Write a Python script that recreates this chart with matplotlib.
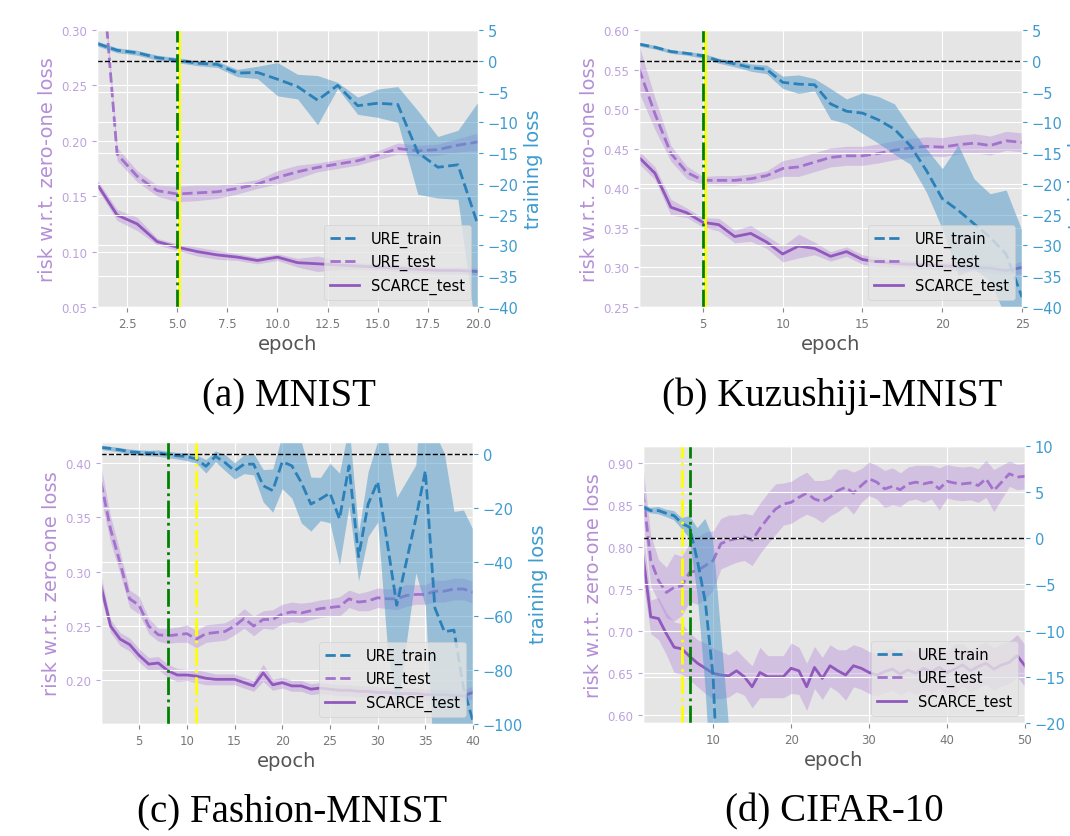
import matplotlib
matplotlib.use("Agg")
import matplotlib.pyplot as plt
import matplotlib.transforms as mtransforms
import numpy as np

plt.style.use("ggplot")

# ---- (a) MNIST ----
a_epoch = list(range(1, 21))
a_train = [2.8, 1.7, 1.3, 0.5, 0.1, -0.4, -0.6, -2.0, -1.9, -3.0, -4.2, -6.4, -4.0, -7.3, -6.9, -7.1, -14.9, -17.3, -16.9, -26.7]
a_train_sd = [0.4, 0.4, 0.4, 0.4, 0.4, 0.4, 0.5, 0.6, 1.0, 2.7, 2.0, 4.0, 0.5, 1.4, 2.3, 2.9, 6.8, 5.0, 5.6, 20.0]
a_test = [0.41, 0.188, 0.168, 0.155, 0.152, 0.153, 0.154, 0.157, 0.161, 0.167, 0.172, 0.176, 0.179, 0.182, 0.187, 0.193, 0.191, 0.192, 0.196, 0.199]
a_test_sd = [0.01, 0.006, 0.005, 0.005, 0.007, 0.007, 0.006, 0.005, 0.004, 0.006, 0.006, 0.004, 0.004, 0.004, 0.004, 0.005, 0.005, 0.005, 0.006, 0.008]
a_scarce = [0.161, 0.133, 0.125, 0.109, 0.104, 0.100, 0.097, 0.095, 0.092, 0.095, 0.090, 0.089, 0.088, 0.087, 0.086, 0.085, 0.084, 0.083, 0.083, 0.082]
a_scarce_sd = [0.004, 0.005, 0.006, 0.003, 0.003, 0.004, 0.004, 0.003, 0.003, 0.003, 0.004, 0.007, 0.004, 0.003, 0.003, 0.003, 0.003, 0.003, 0.003, 0.003]

# ---- (b) Kuzushiji-MNIST ----
b_epoch = list(range(1, 26))
b_train = [2.7, 2.2, 1.5, 1.2, 0.8, 0.0, -0.5, -1.1, -1.4, -3.5, -3.8, -3.9, -7.0, -8.2, -8.5, -9.6, -11.1, -13.8, -17.8, -22.4, -24.3, -26.5, -28.7, -31.4, -38.4]
b_train_sd = [0.3, 0.3, 0.3, 0.3, 0.4, 0.4, 0.5, 0.6, 0.7, 1.0, 1.5, 1.0, 2.5, 2.0, 3.3, 3.8, 4.1, 3.0, 3.5, 4.9, 10.6, 7.3, 7.1, 10.4, 10.8]
b_test = [0.551, 0.494, 0.444, 0.420, 0.410, 0.410, 0.410, 0.412, 0.416, 0.425, 0.427, 0.433, 0.439, 0.441, 0.441, 0.444, 0.448, 0.451, 0.453, 0.452, 0.455, 0.457, 0.454, 0.460, 0.458]
b_test_sd = [0.03, 0.02, 0.01, 0.008, 0.005, 0.006, 0.006, 0.006, 0.006, 0.01, 0.012, 0.012, 0.012, 0.012, 0.012, 0.012, 0.012, 0.012, 0.012, 0.012, 0.012, 0.012, 0.012, 0.012, 0.012]
b_scarce = [0.439, 0.419, 0.376, 0.369, 0.357, 0.354, 0.339, 0.343, 0.332, 0.317, 0.327, 0.324, 0.314, 0.320, 0.310, 0.307, 0.305, 0.304, 0.303, 0.302, 0.301, 0.300, 0.299, 0.296, 0.300]
b_scarce_sd = [0.008, 0.008, 0.01, 0.006, 0.006, 0.008, 0.008, 0.01, 0.008, 0.01, 0.015, 0.008, 0.006, 0.006, 0.006, 0.006, 0.005, 0.005, 0.005, 0.005, 0.005, 0.005, 0.005, 0.005, 0.008]

# ---- (c) Fashion-MNIST ----
c_epoch = list(range(1, 41))
c_train = [2.5, 2.1, 1.6, 0.9, 0.6, 0.4, 0.4, -0.1, -0.6, -0.9, -1.8, -4.5, -0.8, -3.1, -6.2, -3.7, -3.7, -11.7, -13.5, -2.8,
           -4.3, -10.5, -18.5, -16.6, -14.4, -24.0, -4.3, -38.0, -18.5, -10.2, -32.6, -56.0, -40.0, -24.0, -6.2, -57.0, -65.8, -65.2, -86.7, -99.0]
c_train_sd = [0.8, 0.8, 0.8, 1.0, 1.0, 1.0, 1.2, 1.2, 1.2, 1.5, 1.5, 2.5, 2.0, 3.0, 3.0, 3.5, 4.0, 6.0, 8.0, 10.0,
              12.0, 15.0, 10.0, 8.0, 11.0, 17.0, 15.0, 9.0, 12.0, 15.0, 38.0, 40.0, 30.0, 20.0, 50.0, 65.0, 66.0, 44.0, 66.0, 71.0]
c_test = [0.382, 0.339, 0.308, 0.275, 0.269, 0.250, 0.242, 0.241, 0.242, 0.243, 0.238, 0.243, 0.244, 0.245, 0.250, 0.257, 0.250, 0.256, 0.256, 0.261,
          0.263, 0.262, 0.264, 0.266, 0.267, 0.268, 0.275, 0.272, 0.273, 0.276, 0.275, 0.275, 0.278, 0.279, 0.279, 0.282, 0.282, 0.284, 0.284, 0.281]
c_test_sd = [0.015, 0.012, 0.01, 0.008, 0.008, 0.007, 0.006, 0.007, 0.007, 0.008, 0.008, 0.008, 0.008, 0.008, 0.008, 0.009, 0.009, 0.008, 0.009, 0.009,
             0.009, 0.009, 0.008, 0.008, 0.008, 0.009, 0.008, 0.008, 0.009, 0.009, 0.009, 0.01, 0.01, 0.009, 0.009, 0.01, 0.01, 0.01, 0.01, 0.01]
c_scarce = [0.287, 0.250, 0.238, 0.233, 0.223, 0.215, 0.216, 0.209, 0.205, 0.205, 0.204, 0.202, 0.201, 0.201, 0.201, 0.198, 0.195, 0.207, 0.196, 0.198,
            0.195, 0.195, 0.192, 0.193, 0.192, 0.191, 0.191, 0.190, 0.190, 0.189, 0.189, 0.188, 0.188, 0.188, 0.187, 0.187, 0.187, 0.186, 0.186, 0.189]
c_scarce_sd = [0.01, 0.006, 0.006, 0.006, 0.006, 0.006, 0.006, 0.006, 0.006, 0.005, 0.006, 0.006, 0.005, 0.005, 0.005, 0.005, 0.005, 0.008, 0.005, 0.005,
               0.005, 0.005, 0.005, 0.005, 0.005, 0.005, 0.005, 0.005, 0.005, 0.005, 0.005, 0.005, 0.005, 0.005, 0.005, 0.005, 0.005, 0.005, 0.005, 0.006]

# ---- (d) CIFAR-10 ----
d_epoch = list(range(1, 51))
d_train_epoch = list(range(1, 13))
d_train = [3.4, 3.0, 3.0, 2.7, 2.45, 1.6, 1.2, -2.5, -6.9, -15.0, -35.0, -55.0]
d_train_sd = [0.3, 0.3, 0.4, 0.4, 0.5, 0.6, 1.2, 3.6, 9.0, 15.0, 25.0, 35.0]
d_test = [0.865, 0.784, 0.760, 0.746, 0.752, 0.754, 0.770, 0.772, 0.778, 0.784, 0.804, 0.808, 0.810, 0.812, 0.808, 0.822, 0.834, 0.845, 0.851, 0.853,
          0.859, 0.864, 0.857, 0.854, 0.859, 0.867, 0.871, 0.864, 0.873, 0.881, 0.877, 0.869, 0.872, 0.868, 0.875, 0.877, 0.875, 0.877, 0.869, 0.878,
          0.876, 0.875, 0.876, 0.873, 0.881, 0.867, 0.877, 0.887, 0.883, 0.884]
d_test_sd = [0.03, 0.03, 0.025, 0.03, 0.04, 0.035, 0.035, 0.04, 0.04, 0.035, 0.03, 0.03, 0.028, 0.028, 0.03, 0.03, 0.03, 0.03, 0.025, 0.025,
             0.025, 0.025, 0.022, 0.025, 0.022, 0.025, 0.022, 0.025, 0.02, 0.02, 0.02, 0.022, 0.022, 0.02, 0.02, 0.02, 0.022, 0.02, 0.025, 0.02,
             0.02, 0.02, 0.02, 0.02, 0.022, 0.025, 0.02, 0.015, 0.015, 0.015]
d_scarce = [0.790, 0.717, 0.715, 0.697, 0.681, 0.679, 0.670, 0.662, 0.656, 0.650, 0.648, 0.647, 0.653, 0.646, 0.634, 0.651, 0.646, 0.646, 0.646, 0.656,
            0.653, 0.634, 0.657, 0.644, 0.659, 0.653, 0.648, 0.659, 0.656, 0.651, 0.648, 0.652, 0.655, 0.649, 0.654, 0.650, 0.656, 0.652, 0.657, 0.651,
            0.655, 0.660, 0.653, 0.658, 0.662, 0.655, 0.660, 0.663, 0.671, 0.659]
d_scarce_sd = [0.03, 0.02, 0.025, 0.025, 0.03, 0.03, 0.028, 0.028, 0.03, 0.03, 0.028, 0.025, 0.025, 0.022, 0.025, 0.03, 0.025, 0.025, 0.025, 0.03,
               0.028, 0.028, 0.025, 0.025, 0.025, 0.025, 0.03, 0.025, 0.025, 0.025, 0.025, 0.025, 0.025, 0.025, 0.025, 0.025, 0.025, 0.025, 0.025, 0.025,
               0.03, 0.025, 0.025, 0.025, 0.025, 0.025, 0.025, 0.025, 0.025, 0.025]

captions = ["(a) MNIST", "(b) Kuzushiji-MNIST", "(c) Fashion-MNIST", "(d) CIFAR-10"]
green_epoch = [5, 5, 8, 7]
yellow_epoch = [5, 5, 11, 6]

# colours
c_blue = "#2b80b9"
c_blue_fill = "#4a98c9"
c_urt = "#a272cd"
c_sc = "#9158bd"
c_pfill = "#b07cd8"
c_left_lab = "#b48fd6"
c_right_lab = "#3d9bd0"

fig = plt.figure(figsize=(10.7, 8.37), dpi=100)

panels = [
    dict(pos=[0.0907, 0.632, 0.356, 0.331], ep=a_epoch, tr_ep=a_epoch, tr=a_train, tr_sd=a_train_sd,
         te=a_test, te_sd=a_test_sd, sc=a_scarce, sc_sd=a_scarce_sd,
         xlim=(1, 20), ylim=(0.05, 0.30), y2lim=(-40, 5),
         xt=[2.5, 5, 7.5, 10, 12.5, 15, 17.5, 20], xtl=["2.5", "5.0", "7.5", "10.0", "12.5", "15.0", "17.5", "20.0"],
         yt=[0.05, 0.10, 0.15, 0.20, 0.25, 0.30], y2t=[-40, -35, -30, -25, -20, -15, -10, -5, 0, 5]),
    dict(pos=[0.5972, 0.632, 0.358, 0.331], ep=b_epoch, tr_ep=b_epoch, tr=b_train, tr_sd=b_train_sd,
         te=b_test, te_sd=b_test_sd, sc=b_scarce, sc_sd=b_scarce_sd,
         xlim=(1, 25), ylim=(0.25, 0.60), y2lim=(-40, 5),
         xt=[5, 10, 15, 20, 25], xtl=["5", "10", "15", "20", "25"],
         yt=[0.25, 0.30, 0.35, 0.40, 0.45, 0.50, 0.55, 0.60], y2t=[-40, -35, -30, -25, -20, -15, -10, -5, 0, 5]),
    dict(pos=[0.0944, 0.1338, 0.3477, 0.3369], ep=c_epoch, tr_ep=c_epoch, tr=c_train, tr_sd=c_train_sd,
         te=c_test, te_sd=c_test_sd, sc=c_scarce, sc_sd=c_scarce_sd,
         xlim=(1, 40), ylim=(0.160, 0.419), y2lim=(-100, 4.5),
         xt=[5, 10, 15, 20, 25, 30, 35, 40], xtl=["5", "10", "15", "20", "25", "30", "35", "40"],
         yt=[0.20, 0.25, 0.30, 0.35, 0.40], y2t=[-100, -80, -60, -40, -20, 0]),
    dict(pos=[0.6009, 0.135, 0.357, 0.331], ep=d_epoch, tr_ep=d_train_epoch, tr=d_train, tr_sd=d_train_sd,
         te=d_test, te_sd=d_test_sd, sc=d_scarce, sc_sd=d_scarce_sd,
         xlim=(1, 50), ylim=(0.591, 0.920), y2lim=(-20, 10),
         xt=[10, 20, 30, 40, 50], xtl=["10", "20", "30", "40", "50"],
         yt=[0.60, 0.65, 0.70, 0.75, 0.80, 0.85, 0.90], y2t=[-20, -15, -10, -5, 0, 5, 10]),
]

for i, p in enumerate(panels):
    ax = fig.add_axes(p["pos"])
    ep = np.array(p["ep"])
    te = np.array(p["te"]); te_sd = np.array(p["te_sd"])
    sc = np.array(p["sc"]); sc_sd = np.array(p["sc_sd"])

    ax.fill_between(ep, te - te_sd, te + te_sd, color=c_pfill, alpha=0.35, lw=0)
    l_te, = ax.plot(ep, te, ls="--", color=c_urt, lw=2, label="URE_test")
    ax.fill_between(ep, sc - sc_sd, sc + sc_sd, color=c_pfill, alpha=0.35, lw=0)
    l_sc, = ax.plot(ep, sc, ls="-", color=c_sc, lw=2, label="SCARCE_test")

    ax.set_xlim(p["xlim"])
    ax.set_ylim(p["ylim"])
    ax.set_xticks(p["xt"])
    ax.set_xticklabels(p["xtl"])
    ax.set_yticks(p["yt"])
    ax.set_yticklabels(["%.2f" % v for v in p["yt"]])
    ax.tick_params(axis="x", labelsize=8.5, labelcolor="#777777", color="#888888")
    ax.tick_params(axis="y", labelsize=8.5, labelcolor="#bca2dc", color="#bca2dc")
    ax.set_xlabel("epoch", fontsize=14, color="#555555", labelpad=3)
    ax.set_ylabel("risk w.r.t. zero-one loss", fontsize=14, color=c_left_lab, labelpad=3)

    ax2 = ax.twinx()
    tr_ep = np.array(p["tr_ep"])
    tr = np.array(p["tr"]); tr_sd = np.array(p["tr_sd"])
    ax2.fill_between(tr_ep, tr - tr_sd, tr + tr_sd, color=c_blue_fill, alpha=0.5, lw=0)
    l_tr, = ax2.plot(tr_ep, tr, ls="--", color=c_blue, lw=2, label="URE_train")
    ax2.axhline(0, color="black", ls="--", lw=1)

    # yellow marker sits just to the right of the green one when they coincide
    if yellow_epoch[i] == green_epoch[i]:
        shifted = mtransforms.offset_copy(ax2.get_xaxis_transform(), fig=fig, x=2, y=0, units="dots")
        ax2.plot([yellow_epoch[i], yellow_epoch[i]], [0, 1], color="yellow", ls="-", lw=2,
                 transform=shifted, scalex=False, scaley=False)
    else:
        ax2.axvline(yellow_epoch[i], color="yellow", ls="-.", lw=2)
    ax2.axvline(green_epoch[i], color="green", ls="-.", lw=2)

    ax2.set_ylim(p["y2lim"])
    ax2.set_yticks(p["y2t"])
    ax2.tick_params(axis="y", labelsize=10.5, labelcolor=c_right_lab, color=c_right_lab)
    ax2.set_ylabel("training loss", fontsize=14, color=c_right_lab, labelpad=4)
    ax2.set_xlim(p["xlim"])

    leg = ax2.legend([l_tr, l_te, l_sc], ["URE_train", "URE_test", "SCARCE_test"],
                     loc="lower right", fontsize=10.5, framealpha=0.8)

caption_x = [0.27, 0.778, 0.273, 0.78]
caption_y = [0.526, 0.526, 0.03, 0.03]
for i, txt in enumerate(captions):
    fig.text(caption_x[i], caption_y[i], txt, ha="center", va="center",
             fontsize=28, family="Liberation Serif", color="black")

fig.savefig("out.png", dpi=100)
